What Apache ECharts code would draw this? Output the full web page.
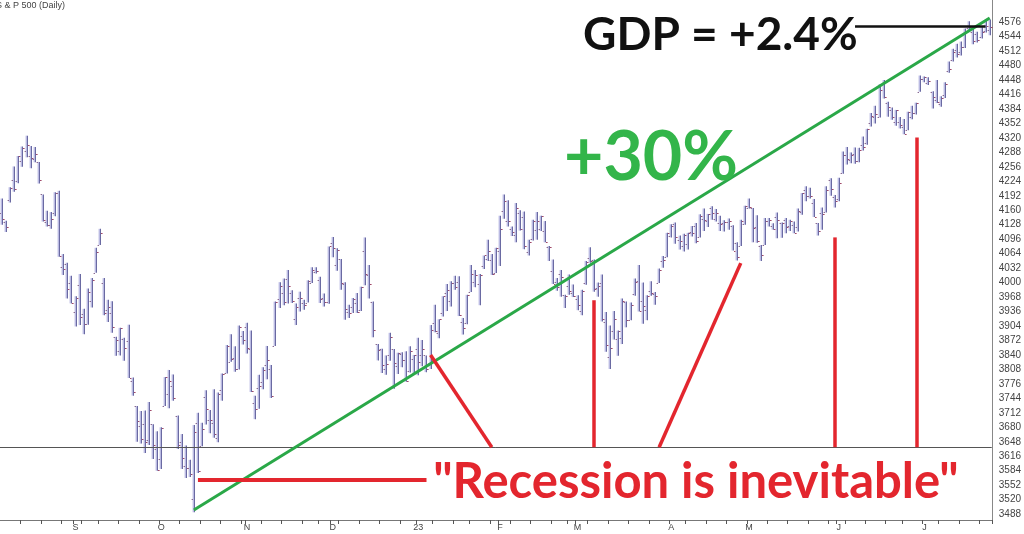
<!DOCTYPE html>
<html>
<head>
<meta charset="utf-8">
<script src="https://cdn.jsdelivr.net/npm/echarts@6/dist/echarts.min.js"></script>
<style>html,body{margin:0;padding:0;background:#fff}#c{width:1024px;height:534px}</style>
</head>
<body>
<div id="c"></div>
<script>
var dates = [
'2022-08-08','2022-08-09','2022-08-10','2022-08-11','2022-08-12','2022-08-15','2022-08-16','2022-08-17','2022-08-18','2022-08-19','2022-08-22','2022-08-23','2022-08-24','2022-08-25','2022-08-26','2022-08-29','2022-08-30','2022-08-31',
'2022-09-01','2022-09-02','2022-09-06','2022-09-07','2022-09-08','2022-09-09','2022-09-12','2022-09-13','2022-09-14','2022-09-15','2022-09-16','2022-09-19','2022-09-20','2022-09-21','2022-09-22','2022-09-23','2022-09-26','2022-09-27','2022-09-28','2022-09-29','2022-09-30',
'2022-10-03','2022-10-04','2022-10-05','2022-10-06','2022-10-07','2022-10-10','2022-10-11','2022-10-12','2022-10-13','2022-10-14','2022-10-17','2022-10-18','2022-10-19','2022-10-20','2022-10-21','2022-10-24','2022-10-25','2022-10-26','2022-10-27','2022-10-28','2022-10-31',
'2022-11-01','2022-11-02','2022-11-03','2022-11-04','2022-11-07','2022-11-08','2022-11-09','2022-11-10','2022-11-11','2022-11-14','2022-11-15','2022-11-16','2022-11-17','2022-11-18','2022-11-21','2022-11-22','2022-11-23','2022-11-25','2022-11-28','2022-11-29','2022-11-30',
'2022-12-01','2022-12-02','2022-12-05','2022-12-06','2022-12-07','2022-12-08','2022-12-09','2022-12-12','2022-12-13','2022-12-14','2022-12-15','2022-12-16','2022-12-19','2022-12-20','2022-12-21','2022-12-22','2022-12-23','2022-12-27','2022-12-28','2022-12-29','2022-12-30',
'2023-01-03','2023-01-04','2023-01-05','2023-01-06','2023-01-09','2023-01-10','2023-01-11','2023-01-12','2023-01-13','2023-01-17','2023-01-18','2023-01-19','2023-01-20','2023-01-23','2023-01-24','2023-01-25','2023-01-26','2023-01-27','2023-01-30','2023-01-31',
'2023-02-01','2023-02-02','2023-02-03','2023-02-06','2023-02-07','2023-02-08','2023-02-09','2023-02-10','2023-02-13','2023-02-14','2023-02-15','2023-02-16','2023-02-17','2023-02-21','2023-02-22','2023-02-23','2023-02-24','2023-02-27','2023-02-28',
'2023-03-01','2023-03-02','2023-03-03','2023-03-06','2023-03-07','2023-03-08','2023-03-09','2023-03-10','2023-03-13','2023-03-14','2023-03-15','2023-03-16','2023-03-17','2023-03-20','2023-03-21','2023-03-22','2023-03-23','2023-03-24','2023-03-27','2023-03-28','2023-03-29','2023-03-30','2023-03-31',
'2023-04-03','2023-04-04','2023-04-05','2023-04-06','2023-04-10','2023-04-11','2023-04-12','2023-04-13','2023-04-14','2023-04-17','2023-04-18','2023-04-19','2023-04-20','2023-04-21','2023-04-24','2023-04-25','2023-04-26','2023-04-27','2023-04-28',
'2023-05-01','2023-05-02','2023-05-03','2023-05-04','2023-05-05','2023-05-08','2023-05-09','2023-05-10','2023-05-11','2023-05-12','2023-05-15','2023-05-16','2023-05-17','2023-05-18','2023-05-19','2023-05-22','2023-05-23','2023-05-24','2023-05-25','2023-05-26','2023-05-30','2023-05-31',
'2023-06-01','2023-06-02','2023-06-05','2023-06-06','2023-06-07','2023-06-08','2023-06-09','2023-06-12','2023-06-13','2023-06-14','2023-06-15','2023-06-16','2023-06-20','2023-06-21','2023-06-22','2023-06-23','2023-06-26','2023-06-27','2023-06-28','2023-06-29','2023-06-30',
'2023-07-03','2023-07-05','2023-07-06','2023-07-07','2023-07-10','2023-07-11','2023-07-12','2023-07-13','2023-07-14','2023-07-17','2023-07-18','2023-07-19','2023-07-20','2023-07-21','2023-07-24','2023-07-25','2023-07-26'
];
var opens = [
4155,4134,4182,4228,4225,4270,4290,4280,4274,4266,4195,4134,4127,4154,4199,4035,4042,4000,
3936,3994,3930,3909,3959,4022,4084,4000,3940,3933,3880,3849,3875,3871,3782,3727,3682,3687,3652,3687,3633,
3610,3727,3753,3771,3706,3647,3595,3591,3521,3690,3638,3746,3696,3689,3657,3762,3799,3825,3834,3808,3881,
3901,3853,3733,3766,3780,3817,3810,3860,3964,3977,4007,3976,3920,3967,3956,3956,4000,4023,4005,3965,3958,
4087,4040,4052,3996,3934,3947,3954,3940,4070,4016,3958,3864,3853,3810,3839,3853,3815,3843,3829,3805,3830,
3853,3840,3839,3823,3910,3888,3932,3977,3960,3999,4002,3912,3910,3979,4001,3996,4036,4053,4049,4021,
4070,4158,4136,4119,4105,4154,4144,4068,4097,4117,4119,4115,4078,4025,4001,4018,3973,3993,3977,
3964,3938,3999,4055,4049,3987,3999,3912,3835,3894,3876,3878,3958,3917,3975,4003,3960,3939,3982,3974,3999,4047,4056,
4102,4129,4095,4082,4085,4111,4126,4101,4140,4137,4164,4140,4131,4132,4133,4126,4087,4082,4130,
4166,4165,4123,4082,4084,4137,4125,4144,4132,4139,4126,4128,4123,4157,4204,4191,4176,4132,4155,4156,4226,4190,
4184,4242,4282,4271,4285,4268,4304,4308,4353,4366,4366,4440,4397,4381,4355,4355,4345,4338,4367,4375,4422,
4450,4442,4422,4404,4394,4416,4467,4492,4514,4509,4521,4563,4555,4550,4543,4556,4559
];
var highs = [
4186,4137,4211,4257,4280,4301,4325,4302,4300,4267,4195,4159,4156,4200,4203,4063,4044,4015,
3970,4019,3942,3987,4010,4077,4119,4010,3962,3959,3880,3900,3878,3907,3790,3727,3716,3717,3736,3687,3671,
3680,3791,3807,3797,3706,3665,3640,3608,3685,3712,3690,3762,3718,3764,3757,3799,3862,3886,3859,3905,3893,
3911,3894,3750,3796,3813,3860,3818,3958,4001,4009,4028,3983,3954,3980,3962,4005,4034,4034,4013,3976,4080,
4101,4076,4052,4001,3951,3966,3977,3991,4100,4039,3958,3864,3854,3839,3889,3853,3845,3846,3848,3859,3840,
3878,3873,3839,3906,3951,3919,3970,3997,4003,4015,4014,3922,3973,4039,4028,4019,4060,4095,4063,4077,
4148,4195,4182,4124,4176,4160,4157,4095,4139,4156,4148,4136,4081,4051,4010,4028,3973,4018,3996,
3972,3984,4048,4078,4051,4000,4018,3935,3905,3937,3894,3965,3958,3956,4009,4039,4000,3972,4003,3979,4031,4059,4110,
4129,4133,4104,4108,4110,4125,4132,4151,4164,4152,4169,4163,4148,4138,4142,4127,4089,4139,4170,
4186,4165,4149,4083,4143,4143,4131,4155,4133,4143,4139,4135,4164,4198,4213,4210,4185,4132,4166,4213,4231,4194,
4232,4290,4300,4288,4299,4298,4323,4340,4375,4391,4439,4448,4400,4387,4382,4366,4362,4378,4391,4398,4458,
4456,4454,4423,4448,4412,4443,4489,4517,4528,4533,4562,4578,4565,4555,4565,4580,4582
];
var lows = [
4128,4112,4177,4201,4220,4256,4277,4253,4266,4219,4135,4124,4119,4147,4057,4017,3965,3954,
3903,3906,3886,3907,3945,4022,4083,3928,3913,3889,3838,3839,3827,3789,3750,3648,3644,3623,3641,3610,3584,
3588,3727,3722,3739,3632,3588,3568,3570,3492,3579,3638,3686,3667,3657,3647,3739,3799,3825,3803,3808,3863,
3843,3758,3698,3721,3764,3786,3745,3860,3944,3950,3954,3955,3906,3936,3940,3956,3999,4020,3955,3947,3953,
4056,4026,3984,3918,3922,3933,3933,3937,3994,3965,3879,3828,3800,3796,3827,3765,3798,3813,3781,3801,3800,
3795,3815,3802,3809,3890,3877,3925,3937,3947,3984,3926,3885,3908,3979,3990,3950,4030,4048,4017,4021,
4037,4141,4124,4103,4089,4115,4074,4060,4093,4095,4114,4089,4048,3997,3982,3969,3944,3973,3968,
3939,3928,3995,4044,3980,3969,3914,3847,3809,3874,3838,3864,3901,3917,3971,3936,3909,3917,3971,3951,3999,4033,4056,
4100,4086,4073,4069,4073,4102,4087,4100,4114,4123,4139,4135,4114,4113,4117,4071,4049,4081,4128,
4164,4089,4088,4048,4083,4124,4117,4098,4099,4109,4114,4109,4113,4150,4180,4186,4145,4104,4117,4155,4192,4166,
4180,4241,4261,4264,4263,4266,4292,4305,4345,4352,4365,4407,4367,4360,4347,4341,4328,4337,4361,4372,4422,
4443,4437,4385,4397,4389,4408,4464,4489,4498,4502,4519,4557,4527,4531,4540,4553,4547
];
var closes = [
4140,4122,4210,4207,4280,4297,4305,4275,4284,4228,4138,4128,4141,4199,4058,4031,3986,3955,
3967,3924,3908,3980,4006,4067,4110,3932,3946,3901,3873,3900,3856,3790,3758,3693,3655,3647,3719,3640,3586,
3678,3791,3783,3745,3640,3612,3589,3577,3670,3583,3677,3720,3696,3666,3753,3797,3860,3830,3808,3901,3872,
3856,3760,3720,3771,3807,3828,3749,3957,3993,3957,3992,3959,3947,3965,3950,4004,4027,4026,3964,3958,4080,
4077,4072,3999,3941,3933,3964,3934,3991,4019,3996,3896,3852,3818,3821,3879,3823,3845,3829,3783,3849,3839,
3824,3853,3808,3895,3893,3919,3970,3983,3999,3991,3928,3899,3973,4020,4017,4016,4060,4071,4018,4077,
4119,4180,4136,4111,4164,4118,4082,4090,4137,4136,4148,4090,4079,3997,3991,4012,3970,3982,3970,
3951,3981,4046,4048,3986,3992,3919,3862,3855,3920,3892,3960,3917,3951,4002,3937,3948,3971,3977,3971,4027,4051,4109,
4125,4101,4091,4105,4109,4109,4092,4147,4138,4152,4155,4155,4130,4133,4137,4071,4056,4136,4169,
4167,4120,4091,4061,4136,4138,4119,4138,4131,4124,4136,4110,4158,4198,4192,4192,4146,4115,4151,4205,4206,4180,
4221,4282,4273,4283,4268,4294,4299,4339,4369,4373,4426,4410,4389,4366,4381,4348,4328,4378,4376,4397,4450,
4455,4446,4411,4399,4409,4439,4472,4510,4505,4522,4555,4565,4535,4536,4554,4567,4566
];
var monthLabels = ['S','O','N','D','23','F','M','A','M','J','J'];
var yTicks = [3488,3520,3552,3584,3616,3648,3680,3712,3744,3776,3808,3840,3872,3904,3936,3968,4000,4032,4064,4096,4128,4160,4192,4224,4256,4288,4320,4352,4384,4416,4448,4480,4512,4544,4576];
var titleText = 'S & P 500 (Daily)';
var refLevel = 3635;
// annotation anchors: [date index, value]
var trendLine = [[47, 3497], [242, 4585]];
var gdpLine = [[209, 4566], [241, 4566]];
var recessionLine = [[48, 3563], [104, 3563]];
var redPointers = [
  [[105, 3840], [120, 3636]],
  [[145, 3961], [145, 3636]],
  [[161, 3636], [181, 4043]],
  [[204, 4100], [204, 3636]],
  [[224, 4321], [224, 3636]]
];
var gdpText = {at: [176, 4547], text: 'GDP = +2.4%'};
var gainText = {at: [159, 4275], text: '+30%'};
var recessionText = {at: [170, 3559], text: '"Recession is inevitable"'};

// ---- build ----
var ohlc = dates.map(function (d, i) { return [i, opens[i], highs[i], lows[i], closes[i]]; });
var labelMap = {}, tickIdx = [];
var mi = 0, prevDay = null, prevMonth = null;
dates.forEach(function (d, i) {
  var dt = new Date(d + 'T00:00:00Z');
  var day = dt.getUTCDay(), mon = dt.getUTCMonth();
  var isTick = false;
  if (prevMonth !== null && mon !== prevMonth) { labelMap[i] = monthLabels[mi++]; isTick = true; }
  if (prevDay !== null && day < prevDay) isTick = true;
  if (isTick) tickIdx.push(i);
  prevDay = day; prevMonth = mon;
});
var tickSet = {};
tickIdx.forEach(function (i) { tickSet[i] = true; });

function renderBar(params, api) {
  var x = api.value(0);
  var o = api.coord([x, api.value(1)]);
  var h = api.coord([x, api.value(2)]);
  var l = api.coord([x, api.value(3)]);
  var c = api.coord([x, api.value(4)]);
  var cx = Math.round(h[0]);
  var top = h[1], hgt = Math.max(1, l[1] - h[1]);
  return {
    type: 'group',
    children: [
      {type: 'rect', shape: {x: cx - 1.4, y: top, width: 1.5, height: hgt}, style: {fill: '#babae2'}},
      {type: 'rect', shape: {x: cx, y: top, width: 1, height: hgt}, style: {fill: '#6a6aa2'}},
      {type: 'rect', shape: {x: cx - 2.4, y: Math.round(o[1]), width: 1.4, height: 1}, style: {fill: '#8a6a90'}},
      {type: 'rect', shape: {x: cx + 1, y: Math.round(c[1]), width: 1.6, height: 1.1}, style: {fill: '#a04868'}}
    ]
  };
}

function seg(pair, color, width) {
  return [
    {coord: pair[0], lineStyle: {color: color, width: width, type: 'solid'}},
    {coord: pair[1]}
  ];
}
function textPoint(t, size, color) {
  return {
    coord: t.at, symbol: 'circle', symbolSize: 1,
    itemStyle: {color: 'rgba(0,0,0,0)'},
    label: {show: true, position: 'inside', formatter: t.text, fontFamily: 'Lato', fontWeight: 'bold', fontSize: size, color: color}
  };
}

var RED = '#e3262e', GREEN = '#2aa848', GREEN_TXT = '#33b54a';
var redSegs = [seg(recessionLine, RED, 4)].concat(redPointers.map(function (p) { return seg(p, RED, 3.5); }));

var chart = echarts.init(document.getElementById('c'), null, {renderer: 'canvas'});
chart.setOption({
  animation: false,
  backgroundColor: '#fff',
  title: {text: titleText, left: -4, top: 1, padding: 0,
    textStyle: {fontSize: 9, fontWeight: 'normal', color: '#444', fontFamily: 'Liberation Sans'}},
  grid: {left: 0, right: 32, top: 0, bottom: 14, containLabel: false},
  xAxis: {
    type: 'category', data: dates, boundaryGap: true,
    axisLine: {show: true, lineStyle: {color: '#777', width: 1}},
    axisTick: {show: true, customValues: tickIdx, interval: function (i) { return !!tickSet[i]; }, length: 4, lineStyle: {color: '#555', width: 1}},
    axisLabel: {interval: function (i) { return labelMap[i] !== undefined; },
      formatter: function (v, i) { return labelMap[i] || ''; },
      fontSize: 9, color: '#444', margin: 3, fontFamily: 'Liberation Sans'},
    splitLine: {show: false}
  },
  yAxis: {
    type: 'value', position: 'right', min: 3475, max: 4625,
    axisLine: {show: true, lineStyle: {color: '#888'}},
    axisTick: {show: false}, splitLine: {show: false},
    axisLabel: {customValues: yTicks, formatter: function (v) { return String(v); },
      fontSize: 10, color: '#444', margin: 7, fontFamily: 'Liberation Sans'}
  },
  series: [
    {type: 'custom', name: 'S&P 500', renderItem: renderBar, data: ohlc, encode: {x: 0, y: [1, 2, 3, 4]}, z: 2, silent: true},
    {type: 'line', name: 'ref', data: [], z: 3, silent: true,
      markLine: {silent: true, symbol: ['none', 'none'], label: {show: false}, animation: false,
        data: [{yAxis: refLevel, lineStyle: {color: '#555', width: 1, type: 'solid'}}]}},
    {type: 'line', name: 'trend', data: [], z: 4, silent: true,
      markLine: {silent: true, symbol: ['none', 'none'], label: {show: false}, animation: false,
        data: [seg(trendLine, GREEN, 3), seg(gdpLine, '#111', 2.5)].concat(redSegs)},
      markPoint: {silent: true, animation: false,
        data: [textPoint(gdpText, 46, '#111'), textPoint(gainText, 68, GREEN_TXT), textPoint(recessionText, 49, RED)]}}
  ]
});
</script>
</body>
</html>
